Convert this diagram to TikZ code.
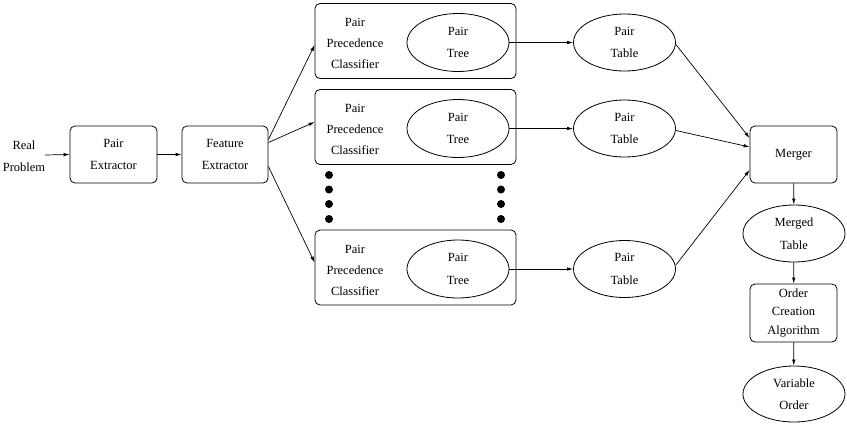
\documentclass[tikz,border=0pt]{standalone}
\usepackage{fontspec}
\setmainfont{Liberation Serif}
\usetikzlibrary{arrows.meta,shapes.geometric}
\begin{document}
\begin{tikzpicture}[x=1pt,y=-1pt,
  every node/.style={font=\fontsize{12.5}{22.5}\selectfont, align=center, inner sep=0pt},
  rbox/.style={draw, rounded corners=5pt, line width=0.8pt},
  ell/.style={draw, ellipse, line width=0.8pt},
  arr/.style={line width=0.7pt, -{Latex[length=6pt,width=3.5pt]}},
  dot/.style={circle, fill=black, minimum size=8pt, inner sep=0pt}]
\useasboundingbox (0,0) rectangle (847,424);
% left
\node (rp) at (24,156) {Real\\Problem};
\coordinate (rpa) at (45,155);
\node[rbox, minimum width=87pt, minimum height=57pt] (pe) at (113.5,154.5) {Pair\\Extractor};
\node[rbox, minimum width=86pt, minimum height=57pt] (fe) at (225,154.5) {Feature\\Extractor};
\draw[arr] (rpa) -- (pe.west);
\draw[arr] (pe.east) -- (fe.west);
% classifier boxes
\foreach \i/\y in {1/41,2/127,3/267.5}{
  \node[rbox, minimum width=201pt, minimum height=75pt] (c\i) at (415.5,\y) {};
  \node[font=\fontsize{12.5}{21}\selectfont] (ct\i) at (355,\y+2.5) {Pair\\Precedence\\Classifier};
  \node[ell, minimum width=102pt, minimum height=58pt] (pt\i) at (458,\y+1.5) {Pair\\Tree};
  \node[ell, minimum width=102pt, minimum height=57pt] (tb\i) at (624.5,\y+1.5) {Pair\\Table};
  \draw[arr] (pt\i) -- (tb\i);
}
% dots
\foreach \y in {175,189.5,204,219}{
  \node[dot] at (329,\y) {};
  \node[dot] at (501,\y) {};
}
\draw[arr] ([yshift=15pt]fe.east) -- ([yshift=-4pt]c1.west);
\draw[arr] ([yshift=12pt]fe.east) -- ([yshift=5pt]c2.west);
\draw[arr] ([yshift=-12pt]fe.east) -- ([yshift=5pt]c3.west);
% right column
\node[rbox, minimum width=87pt, minimum height=57pt] (mg) at (793.5,154.5) {Merger};
\node[ell, minimum width=102pt, minimum height=57pt] (mt) at (794,233.5) {Merged\\Table};
\node[rbox, minimum width=87pt, minimum height=58pt, font=\fontsize{12.5}{18.5}\selectfont] (oc) at (793.5,313) {Order\\Creation\\Algorithm};
\node[ell, minimum width=102pt, minimum height=56pt] (vo) at (794,394) {Variable\\Order};
\draw[arr] ([yshift=-2pt]tb1.east) -- ([yshift=16.5pt]mg.west);
\draw[arr] ([yshift=-2pt]tb2.east) -- ([yshift=7.5pt]mg.west);
\draw[arr] ([yshift=4pt]tb3.east) -- ([yshift=-15.5pt]mg.west);
\draw[arr] (mg) -- (mt);
\draw[arr] (mt) -- (oc);
\draw[arr] (oc) -- (vo);
\end{tikzpicture}
\end{document}
